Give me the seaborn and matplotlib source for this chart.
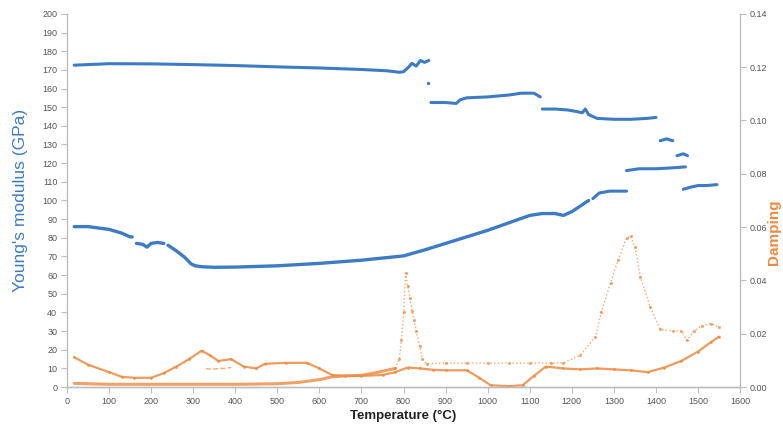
import numpy as np
import pandas as pd
import matplotlib
matplotlib.use("Agg")
import matplotlib.pyplot as plt
import seaborn as sns

# Young's modulus (GPa), upper branch pieces
upper_T = [
    [17, 100, 200, 300, 400, 500, 600, 700, 760, 790, 800, 810, 820, 830, 840, 850, 860],
    [865, 900, 925, 935, 950, 1000, 1050, 1080, 1110, 1125],
    [1130, 1160, 1190, 1215, 1225, 1232, 1240, 1260, 1300, 1340, 1380, 1400],
    [1410, 1425, 1440],
    [1450, 1465, 1475],
    [1330, 1360, 1400, 1440, 1470],
    [1250, 1265, 1290, 1330],
    [1465, 1480, 1500, 1520, 1545],
]
upper_E = [
    [172.5, 173.3, 173.2, 172.8, 172.3, 171.6, 171.0, 170.2, 169.5, 168.7, 169.0, 171.0, 173.5, 172.0, 175.0, 174.0, 175.0],
    [152.5, 152.5, 152.0, 154.0, 155.0, 155.5, 156.5, 157.5, 157.5, 155.5],
    [149.0, 149.0, 148.5, 147.5, 147.0, 149.0, 146.0, 144.0, 143.5, 143.5, 144.0, 144.5],
    [132.0, 133.0, 132.0],
    [124.0, 125.0, 124.0],
    [116.0, 117.0, 117.0, 117.5, 118.0],
    [101.0, 104.0, 105.0, 105.0],
    [106.0, 107.0, 108.0, 108.0, 108.5],
]
stray_T = [858]
stray_E = [163]

# Young's modulus (GPa), lower branch pieces
lower_T = [
    [17, 50, 100, 130, 150, 155],
    [165, 180, 190, 200, 215, 230],
    [240, 260, 280, 295, 305, 320, 350, 400, 500, 600, 700, 800, 850, 900, 950,
     1000, 1050, 1100, 1130, 1160, 1180, 1200, 1220, 1240],
]
lower_E = [
    [86, 86, 84.5, 82.5, 80.5, 80.5],
    [77, 76.5, 75, 77, 77.5, 77],
    [76, 73, 69.5, 66, 65, 64.5, 64.2, 64.3, 65, 66.3, 68, 70.3, 73.5, 77, 80.5,
     84, 88, 92, 93, 93, 92, 94, 97, 100],
]

# damping
dampA_T = [17, 50, 100, 130, 160, 200, 230, 260, 290, 320, 340, 360, 390, 420, 450, 470,
           520, 570, 600, 630, 660, 700, 750, 780, 810, 840, 870, 900, 950, 980, 1007,
           1050, 1083, 1110, 1138, 1180, 1220, 1260, 1300, 1340, 1380, 1420, 1460, 1500,
           1530, 1550]
dampA = [0.0112, 0.0084, 0.0056, 0.00385, 0.0035, 0.0035, 0.00525, 0.0077, 0.0105, 0.01365,
         0.0119, 0.0098, 0.0105, 0.0077, 0.0070, 0.00875, 0.0091, 0.0091, 0.0070, 0.00455,
         0.0042, 0.0042, 0.00455, 0.0056, 0.00735, 0.0070, 0.0065, 0.0063, 0.0063, 0.0035,
         0.0007, 0.00035, 0.0007, 0.0042, 0.0077, 0.0070, 0.00665, 0.0070, 0.00665, 0.0063,
         0.0056, 0.00735, 0.0098, 0.0133, 0.0168, 0.0189]

dampB_T = [780, 790, 795, 800, 805, 810, 815, 820, 825, 830, 838, 845, 855, 900, 950, 1000,
           1050, 1100, 1150, 1180, 1220, 1256, 1270, 1292, 1310, 1330, 1340, 1350, 1363,
           1386, 1410, 1440, 1460, 1474, 1490, 1510, 1530, 1550]
dampB = [0.0070, 0.0105, 0.0175, 0.0280, 0.0427, 0.0378, 0.0336, 0.0287, 0.0252, 0.0210,
         0.0154, 0.0105, 0.00875, 0.0090, 0.0090, 0.0090, 0.0090, 0.0090, 0.0090, 0.0091,
         0.0119, 0.0189, 0.0280, 0.0392, 0.0476, 0.0560, 0.0567, 0.0525, 0.0413, 0.0301,
         0.0217, 0.0210, 0.0210, 0.0175, 0.0210, 0.0231, 0.0238, 0.0224]

dampC_T = [17, 100, 200, 300, 400, 500, 550, 600, 630, 660, 700, 740, 780]
dampC = [0.0014, 0.00105, 0.00105, 0.00105, 0.00105, 0.00126, 0.00175, 0.0028, 0.00385,
         0.0042, 0.0044, 0.0056, 0.0070]

dampD_T = [330, 345, 360, 375, 390]
dampD = [0.0070, 0.00665, 0.0070, 0.0070, 0.00735]

x_ticks = list(range(0, 1700, 100))
e_ticks = list(range(0, 210, 10))
d_ticks = [0.00, 0.02, 0.04, 0.06, 0.08, 0.10, 0.12, 0.14]

blue = "#3d7cc4"
orange = "#ee8a3f"
grey = "#bdbdbd"

sns.set_theme(style="white")
plt.rcParams['font.family'] = ['Liberation Sans', 'DejaVu Sans']

fig = plt.figure(figsize=(7.83, 4.33), dpi=100)
ax = fig.add_axes([0.0856, 0.106, 0.8596, 0.862])
ax2 = ax.twinx()

# orange damping first (right axis)
sns.lineplot(x=dampC_T, y=dampC, ax=ax2, color=orange, lw=2.2, alpha=0.8, sort=False)
sns.lineplot(x=dampA_T, y=dampA, ax=ax2, color=orange, lw=1.6, alpha=0.85, sort=False,
             marker='o', markersize=2, markeredgewidth=0)
sns.lineplot(x=dampB_T, y=dampB, ax=ax2, color=orange, lw=1.0, alpha=0.75, sort=False,
             linestyle=':', marker='o', markersize=2.2, markeredgewidth=0)
sns.lineplot(x=dampD_T, y=dampD, ax=ax2, color=orange, lw=1.0, alpha=0.7, sort=False,
             linestyle='--')

# blue modulus (left axis)
for t, e in zip(upper_T, upper_E):
    sns.lineplot(x=t, y=e, ax=ax, color=blue, lw=2.2, sort=False)
for t, e in zip(lower_T, lower_E):
    sns.lineplot(x=t, y=e, ax=ax, color=blue, lw=2.4, sort=False)
sns.scatterplot(x=stray_T, y=stray_E, ax=ax, color=blue, s=6, linewidth=0)

ax.set_zorder(ax2.get_zorder() + 1)
ax.patch.set_visible(False)

ax.set_xlim(0, 1600)
ax.set_ylim(0, 200)
ax2.set_ylim(0, 0.14)
ax.set_xticks(x_ticks)
ax.set_yticks(e_ticks)
ax2.set_yticks(d_ticks)
ax2.set_yticklabels([f"{v:.2f}" for v in d_ticks])

for a in (ax, ax2):
    for s in a.spines.values():
        s.set_color(grey)
        s.set_linewidth(1.0)
    a.spines['top'].set_visible(False)
    a.tick_params(axis='both', which='major', direction='out', length=4, width=0.8,
                  color=grey, labelsize=6.5, labelcolor='#555555', pad=3)
    a.grid(False)
ax2.spines['left'].set_visible(False)
ax.spines['right'].set_visible(False)
ax.tick_params(axis='y', left=True)
ax.tick_params(axis='x', bottom=True)
ax2.tick_params(axis='y', right=True)

ax.set_xlabel("Temperature (°C)", fontsize=9.5, fontweight='bold', color='#222222', labelpad=3)
ax.set_ylabel("Young's modulus (GPa)", fontsize=12.5, color=blue, labelpad=10)
ax2.set_ylabel("")
# right axis title sits hard against the figure edge, as in the reference
fig.text(774 / 783, 1 - 232 / 433, "Damping", rotation=90, fontsize=11, color=orange,
         ha='center', va='center', fontweight='bold')

fig.savefig("out.png", dpi=100)
